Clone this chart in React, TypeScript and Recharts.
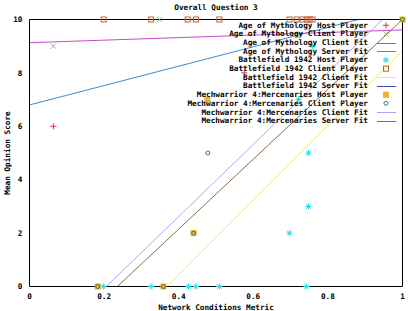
import React from 'react';
import { ComposedChart, Line, Scatter, XAxis, YAxis, Label } from 'recharts';

// ---- data ----
const xTicks = [0, 0.2, 0.4, 0.6, 0.8, 1];
const yTicks = [0, 2, 4, 6, 8, 10];

const aomHostPlayer = [
  { x: 0.064, y: 6 },
  { x: 0.576, y: 8 },
];
const aomClientPlayer = [
  { x: 0.064, y: 9 },
  { x: 0.349, y: 10 },
];
const aomClientFit = [
  { x: 0, y: 6.8 },
  { x: 1, y: 10.43 },
];
const aomServerFit = [
  { x: 0, y: 9.13 },
  { x: 1, y: 9.61 },
];
const bfHostPlayer = [
  { x: 0.199, y: 0 },
  { x: 0.326, y: 0 },
  { x: 0.426, y: 0 },
  { x: 0.446, y: 0 },
  { x: 0.509, y: 0 },
  { x: 0.742, y: 0 },
  { x: 0.697, y: 2 },
  { x: 0.748, y: 3 },
  { x: 0.748, y: 5 },
  { x: 0.721, y: 7 },
  { x: 0.759, y: 9 },
];
const bfClientPlayer = [
  { x: 0.199, y: 10 },
  { x: 0.326, y: 10 },
  { x: 0.424, y: 10 },
  { x: 0.446, y: 10 },
  { x: 0.509, y: 10 },
  { x: 0.697, y: 10 },
  { x: 0.716, y: 10 },
  { x: 0.732, y: 10 },
  { x: 0.743, y: 10 },
  { x: 0.751, y: 10 },
  { x: 0.759, y: 10 },
];
const bfClientFit = [
  { x: 0, y: -5.17 },
  { x: 1, y: 8.83 },
];
const bfServerFit = [
  { x: 0, y: 10 },
  { x: 1, y: 10 },
];
const mwHostPlayer = [
  { x: 0.183, y: 0 },
  { x: 0.359, y: 0 },
  { x: 0.44, y: 2 },
  { x: 0.477, y: 7 },
  { x: 1, y: 10 },
];
const mwClientPlayer = [
  { x: 0.183, y: 0 },
  { x: 0.359, y: 0 },
  { x: 0.44, y: 2 },
  { x: 0.478, y: 5 },
  { x: 1, y: 10 },
];
const mwClientFit = [
  { x: 0, y: -2.78 },
  { x: 1, y: 10.72 },
];
const mwServerFit = [
  { x: 0, y: -3.08 },
  { x: 1, y: 10.0 },
];

const FONT = '"DejaVu Sans Mono", "Liberation Mono", monospace';
const FS = 7.7;

type Kind = 'plus' | 'cross' | 'star' | 'sqOpen' | 'sqFill' | 'circle' | 'line';

const legendItems: { name: string; kind: Kind; color: string }[] = [
  { name: 'Age of Mythology Host Player', kind: 'plus', color: '#e8283c' },
  { name: 'Age of Mythology Client Player', kind: 'cross', color: '#78c878' },
  { name: 'Age of Mythology Client Fit', kind: 'line', color: '#3a8ed0' },
  { name: 'Age of Mythology Server Fit', kind: 'line', color: '#c84ad0' },
  { name: 'Battlefield 1942 Host Player', kind: 'star', color: '#20dce4' },
  { name: 'Battlefield 1942 Client Player', kind: 'sqOpen', color: '#c0602a' },
  { name: 'Battlefield 1942 Client Fit', kind: 'line', color: '#e4f06a' },
  { name: 'Battlefield 1942 Server Fit', kind: 'line', color: '#4848b0' },
  { name: 'Mechwarrior 4:Mercenaries Host Player', kind: 'sqFill', color: '#f0b030' },
  { name: 'Mechwarrior 4:Mercenaries Client Player', kind: 'circle', color: '#208a60' },
  { name: 'Mechwarrior 4:Mercenaries Client Fit', kind: 'line', color: '#a8a8f0' },
  { name: 'Mechwarrior 4:Mercenaries Server Fit', kind: 'line', color: '#8a6a48' },
];

const colorOf = (name: string) => legendItems.find((l) => l.name === name)!.color;

function Marker({ kind, cx, cy, color }: { kind: Kind; cx: number; cy: number; color: string }) {
  if (cx == null || cy == null) return null;
  switch (kind) {
    case 'plus':
      return <path d={`M${cx - 3},${cy}h6M${cx},${cy - 3}v6`} stroke={color} strokeWidth={1} fill="none" />;
    case 'cross':
      return <path d={`M${cx - 2.5},${cy - 2.5}l5,5M${cx - 2.5},${cy + 2.5}l5,-5`} stroke={color} strokeWidth={1} fill="none" />;
    case 'star':
      return (
        <path
          d={`M${cx - 3},${cy}h6M${cx},${cy - 3}v6M${cx - 2.2},${cy - 2.2}l4.4,4.4M${cx - 2.2},${cy + 2.2}l4.4,-4.4`}
          stroke={color}
          strokeWidth={1}
          fill="none"
        />
      );
    case 'sqOpen':
      return <rect x={cx - 2.5} y={cy - 2.5} width={5} height={5} stroke={color} strokeWidth={1} fill="none" />;
    case 'sqFill':
      return <rect x={cx - 3} y={cy - 3} width={6} height={6} fill={color} stroke="none" />;
    case 'circle':
      return <circle cx={cx} cy={cy} r={2} stroke={color} strokeWidth={1} fill="none" />;
    default:
      return null;
  }
}

const scatterSeries: { name: string; data: { x: number; y: number }[] }[] = [
  { name: 'Age of Mythology Host Player', data: aomHostPlayer },
  { name: 'Age of Mythology Client Player', data: aomClientPlayer },
  { name: 'Battlefield 1942 Host Player', data: bfHostPlayer },
  { name: 'Battlefield 1942 Client Player', data: bfClientPlayer },
  { name: 'Mechwarrior 4:Mercenaries Host Player', data: mwHostPlayer },
  { name: 'Mechwarrior 4:Mercenaries Client Player', data: mwClientPlayer },
];

const lineSeries: { name: string; data: { x: number; y: number }[] }[] = [
  { name: 'Age of Mythology Client Fit', data: aomClientFit },
  { name: 'Age of Mythology Server Fit', data: aomServerFit },
  { name: 'Battlefield 1942 Client Fit', data: bfClientFit },
  { name: 'Battlefield 1942 Server Fit', data: bfServerFit },
  { name: 'Mechwarrior 4:Mercenaries Client Fit', data: mwClientFit },
  { name: 'Mechwarrior 4:Mercenaries Server Fit', data: mwServerFit },
];

const tickStyle = { fontFamily: FONT, fontSize: FS, fontWeight: 'bold' as const, fill: '#000' };

function LegendOverlay() {
  const rowY0 = 25.3;
  const rowH = 8.67;
  const textRight = 368;
  const symX = 386;
  return (
    <svg
      width={408}
      height={311}
      style={{ position: 'absolute', left: 0, top: 0, pointerEvents: 'none' }}
    >
      <text
        x={216}
        y={7}
        textAnchor="middle"
        dominantBaseline="central"
        style={{ fontFamily: FONT, fontSize: FS, fontWeight: 'bold' }}
        fill="#000"
      >
        Overall Question 3
      </text>
      {legendItems.map((it, i) => {
        const y = rowY0 + i * rowH;
        return (
          <g key={it.name}>
            <text
              x={textRight}
              y={y}
              textAnchor="end"
              dominantBaseline="central"
              style={{ fontFamily: FONT, fontSize: FS, fontWeight: 'bold' }}
              fill="#000"
            >
              {it.name}
            </text>
            {it.kind === 'line' ? (
              <line x1={377} x2={396} y1={Math.round(y) + 0.5} y2={Math.round(y) + 0.5} stroke={it.color} strokeWidth={1} />
            ) : (
              <Marker kind={it.kind} cx={symX} cy={y} color={it.color} />
            )}
          </g>
        );
      })}
    </svg>
  );
}

export default function App() {
  return (
    <div style={{ position: 'absolute', left: 0, top: 0, width: 408, height: 311 }}>
      <ComposedChart width={408} height={311} margin={{ top: 19.5, right: 5.5, left: 0, bottom: 0 }}>
        <XAxis
          dataKey="x"
          type="number"
          domain={[0, 1]}
          ticks={xTicks}
          allowDataOverflow
          height={24.5}
          tickLine={false}
          axisLine={{ stroke: '#000' }}
          tick={tickStyle}
          tickSize={5.5}
          tickMargin={2}
          tickFormatter={(v: number) => String(v)}
        >
          <Label
            value="Network Conditions Metric"
            position="insideBottom"
            offset={1}
            style={{ fontFamily: FONT, fontSize: FS, fontWeight: 'bold', fill: '#000' }}
          />
        </XAxis>
        <XAxis
          xAxisId="top"
          dataKey="x"
          type="number"
          domain={[0, 1]}
          ticks={xTicks}
          orientation="top"
          mirror
          height={1}
          tick={false}
          tickSize={5}
          tickLine={{ stroke: '#000' }}
          axisLine={{ stroke: '#000' }}
        />
        <XAxis
          xAxisId="bot"
          dataKey="x"
          type="number"
          domain={[0, 1]}
          ticks={xTicks}
          orientation="bottom"
          mirror
          height={1}
          tick={false}
          tickSize={5}
          tickLine={{ stroke: '#000' }}
          axisLine={false}
        />
        <XAxis xAxisId="s" dataKey="x" type="number" domain={[0, 1]} hide />
        <YAxis
          dataKey="y"
          type="number"
          domain={[0, 10]}
          ticks={yTicks}
          allowDataOverflow
          width={29.5}
          tickLine={false}
          axisLine={{ stroke: '#000' }}
          tick={tickStyle}
          tickSize={5}
          tickMargin={2}
        >
          <Label
            content={(props: any) => {
              const vb = props.viewBox || {};
              const cx = 7;
              const cy = (vb.y ?? 19.5) + (vb.height ?? 267) / 2;
              return (
                <text
                  x={cx}
                  y={cy}
                  transform={`rotate(-90 ${cx} ${cy})`}
                  textAnchor="middle"
                  dominantBaseline="central"
                  style={{ fontFamily: FONT, fontSize: FS, fontWeight: 'bold' }}
                  fill="#000"
                >
                  Mean Opinion Score
                </text>
              );
            }}
          />
        </YAxis>
        <YAxis
          yAxisId="l"
          dataKey="y"
          type="number"
          domain={[0, 10]}
          ticks={yTicks}
          orientation="left"
          mirror
          width={1}
          tick={false}
          tickSize={5}
          tickLine={{ stroke: '#000' }}
          axisLine={false}
        />
        <YAxis
          yAxisId="r"
          dataKey="y"
          type="number"
          domain={[0, 10]}
          ticks={yTicks}
          orientation="right"
          mirror
          width={1}
          tick={false}
          tickSize={5}
          tickLine={{ stroke: '#000' }}
          axisLine={{ stroke: '#000' }}
        />
        <YAxis yAxisId="s" dataKey="y" type="number" domain={[0, 10]} hide />

        {lineSeries.map((s) => (
          <Line
            key={s.name}
            data={s.data}
            dataKey="y"
            name={s.name}
            type="linear"
            stroke={colorOf(s.name)}
            strokeWidth={1}
            dot={false}
            activeDot={false}
            isAnimationActive={false}
          />
        ))}
        {scatterSeries.map((s) => {
          const it = legendItems.find((l) => l.name === s.name)!;
          return (
            <Scatter
              key={s.name}
              data={s.data}
              name={s.name}
              xAxisId="s"
              yAxisId="s"
              isAnimationActive={false}
              shape={(p: any) => <Marker kind={it.kind} cx={p.cx} cy={p.cy} color={it.color} />}
            />
          );
        })}
      </ComposedChart>
      <LegendOverlay />
    </div>
  );
}
